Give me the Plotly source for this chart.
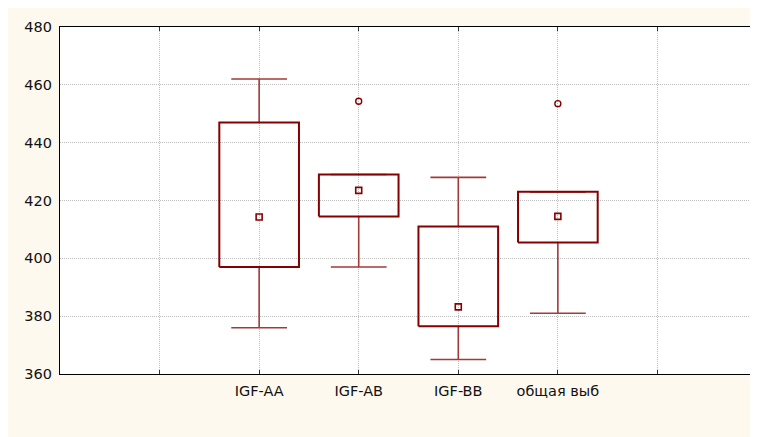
import plotly.graph_objects as go

categories = ["IGF-AA", "IGF-AB", "IGF-BB", "общая выб"]
whisker_low = [376, 397, 365, 381]
box_low = [397, 414.5, 376.5, 405.5]
box_high = [447, 429, 411, 423]
whisker_high = [462, 429, 428, 423]
center = [414.3, 423.5, 383.2, 414.5]
outliers = [None, 454.3, None, 453.5]

y_ticks = [360, 380, 400, 420, 440, 460, 480]

BOX_HALF = 0.40
CAP_HALF = 0.28
DARK = "#850000"
WHISK = "#a23a3a"

positions = list(range(1, len(categories) + 1))

fig = go.Figure()

# whiskers
wx, wy = [], []
for p, wl, bl, bh, wh in zip(positions, whisker_low, box_low, box_high, whisker_high):
    wx += [p, p, None, p, p, None, p - CAP_HALF, p + CAP_HALF, None, p - CAP_HALF, p + CAP_HALF, None]
    wy += [bh, wh, None, bl, wl, None, wh, wh, None, wl, wl, None]
fig.add_trace(go.Scatter(x=wx, y=wy, mode="lines", line=dict(color=WHISK, width=1.6),
                         hoverinfo="skip", showlegend=False))

# boxes
bx, by = [], []
for p, bl, bh in zip(positions, box_low, box_high):
    bx += [p - BOX_HALF, p + BOX_HALF, p + BOX_HALF, p - BOX_HALF, p - BOX_HALF, None]
    by += [bl, bl, bh, bh, bl, None]
fig.add_trace(go.Scatter(x=bx, y=by, mode="lines", line=dict(color=DARK, width=2),
                         hoverinfo="skip", showlegend=False))

# centre markers
fig.add_trace(go.Scatter(x=positions, y=center, mode="markers",
                         marker=dict(symbol="square-open", size=6, color=DARK, line=dict(width=1.6)),
                         showlegend=False))

# outliers
ox = [p for p, o in zip(positions, outliers) if o is not None]
oy = [o for o in outliers if o is not None]
fig.add_trace(go.Scatter(x=ox, y=oy, mode="markers",
                         marker=dict(symbol="circle-open", size=6, color=DARK, line=dict(width=1.4)),
                         showlegend=False))

fig.update_layout(
    width=758, height=437,
    margin=dict(l=52, r=9, t=19, b=71),
    paper_bgcolor="#fdf9ee",
    plot_bgcolor="white",
    font=dict(family="DejaVu Sans, Verdana, sans-serif", size=14.5, color="#111"),
    showlegend=False,
)
fig.update_xaxes(
    range=[-1, len(categories) + 2],
    tickvals=[0] + positions + [len(categories) + 1],
    ticktext=[""] + categories + [""],
    showgrid=True, gridcolor="#bdbdbd", griddash="1px,1px", gridwidth=1,
    showline=True, linecolor="black", linewidth=1.2, mirror="allticks",
    ticks="inside", ticklen=4, tickcolor="#333", ticklabelstandoff=3,
    zeroline=False, fixedrange=True,
)
fig.update_yaxes(
    range=[y_ticks[0], y_ticks[-1]],
    tickvals=y_ticks,
    showgrid=True, gridcolor="#bdbdbd", griddash="1px,1px", gridwidth=1,
    showline=True, linecolor="black", linewidth=1.2, mirror=True,
    ticks="", ticklabelstandoff=4,
    zeroline=False, fixedrange=True,
)

fig.write_html("out.html")
